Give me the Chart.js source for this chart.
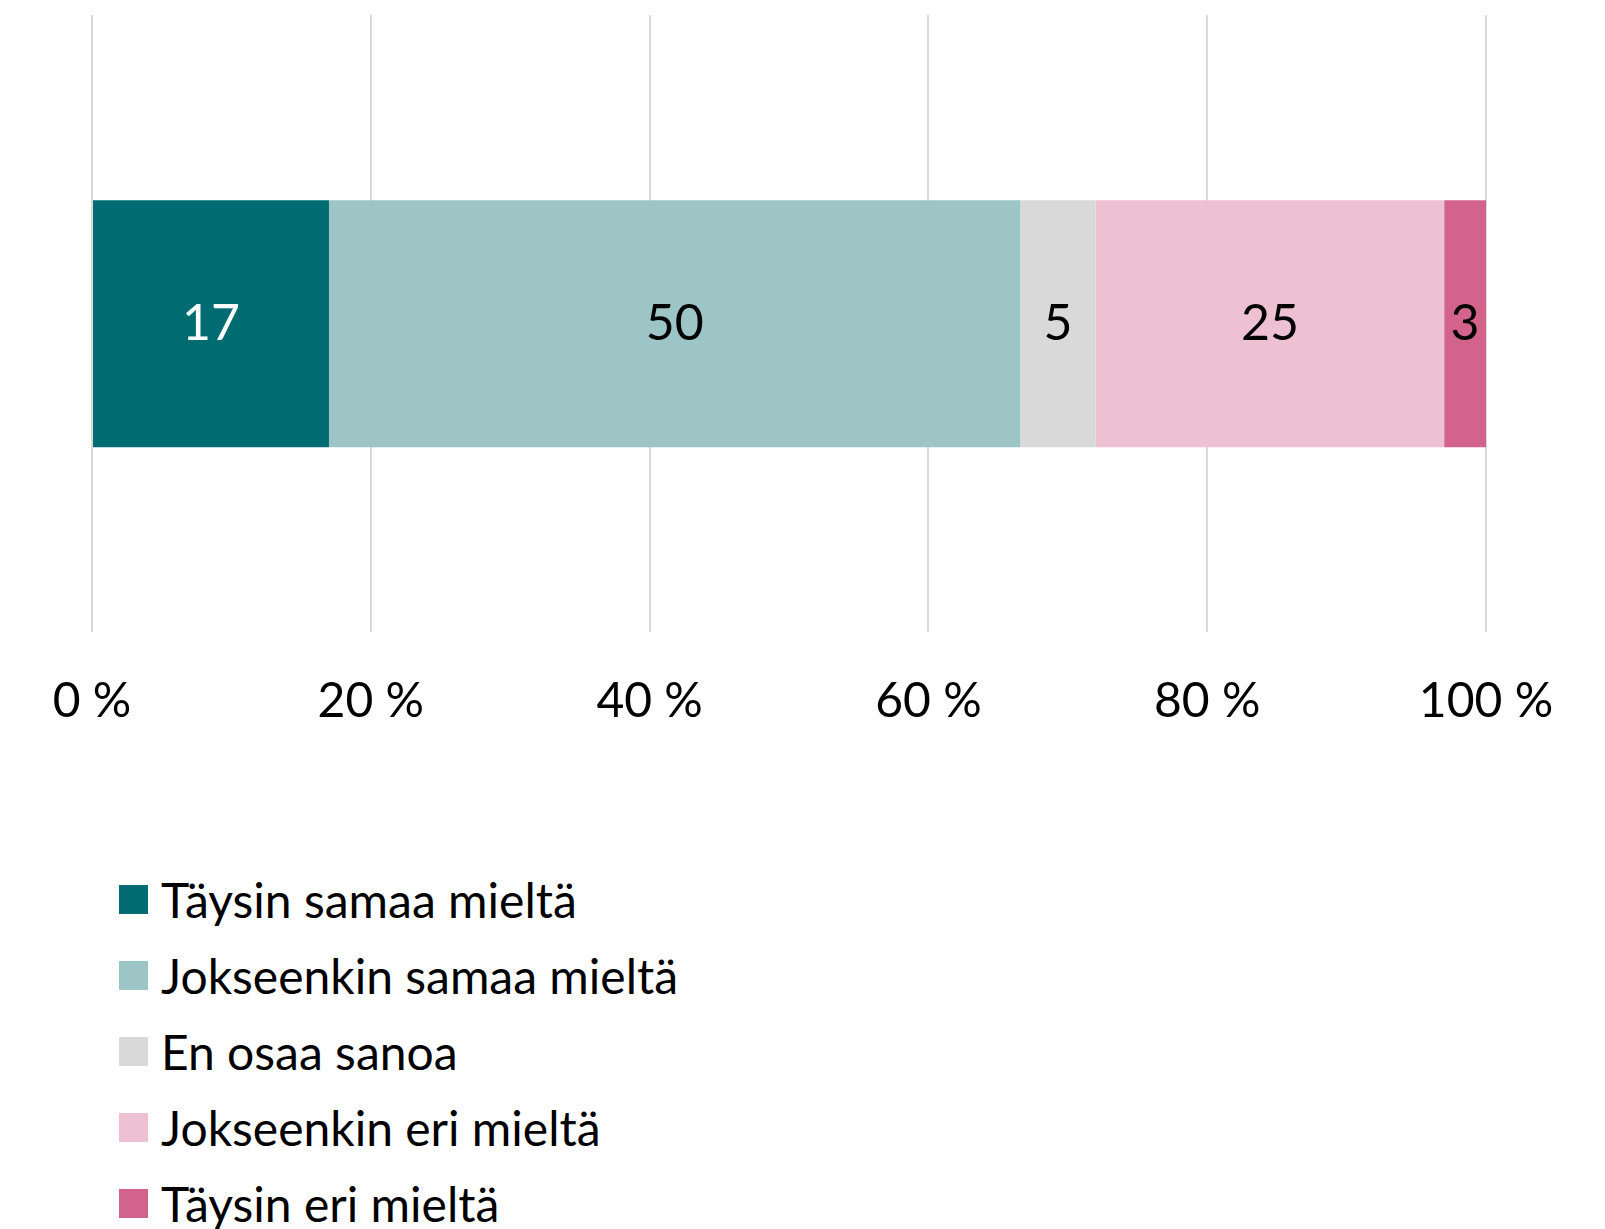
<!DOCTYPE html>
<html>
<head>
<meta charset="utf-8">
<script src="https://cdn.jsdelivr.net/npm/chart.js@4.4.1/dist/chart.umd.min.js"></script>
<style>
  body { margin: 0; background: #fff; font-family: Lato, sans-serif; }
  #wrap { position: relative; width: 1605px; height: 1229px; overflow: hidden; }
  #chartBox { position: absolute; left: 0; top: 0; width: 1605px; height: 804px; }
  #legend { position: absolute; left: 119px; top: 861px; margin: 0; padding: 0; list-style: none; }
  #legend li { display: flex; align-items: center; height: 76px; font-size: 48px; color: #000; }
  #legend .box { width: 29px; height: 29px; margin-right: 13px; flex: none; }
</style>
</head>
<body>
<div id="wrap">
  <div id="chartBox"><canvas id="chart"></canvas></div>
  <ul id="legend"></ul>
</div>
<script>
const categories = [''];
const seriesNames = ['Täysin samaa mieltä', 'Jokseenkin samaa mieltä', 'En osaa sanoa', 'Jokseenkin eri mieltä', 'Täysin eri mieltä'];
const shares = [17, 49.6, 5.4, 25, 3];
const xTicks = [0, 20, 40, 60, 80, 100];

const colors = ['#006C71', '#9DC5C6', '#D9D9D9', '#EDC1D1', '#D2648C'];
const labelColors = ['#fff', '#000', '#000', '#000', '#000'];

// draws the rounded value in the middle of each segment
const segmentLabels = {
  id: 'segmentLabels',
  afterDatasetsDraw(chart) {
    const ctx = chart.ctx;
    ctx.save();
    ctx.font = '50px Lato';
    ctx.textAlign = 'center';
    ctx.textBaseline = 'middle';
    chart.data.datasets.forEach((ds, i) => {
      chart.getDatasetMeta(i).data.forEach((bar, j) => {
        const p = bar.getCenterPoint();
        ctx.fillStyle = labelColors[i];
        ctx.fillText(Math.round(ds.data[j]), p.x, p.y);
      });
    });
    ctx.restore();
  }
};

const datasets = seriesNames.map((name, i) => ({
  label: name,
  data: [shares[i]],
  backgroundColor: colors[i],
  borderWidth: 0,
  barPercentage: 0.4,
  categoryPercentage: 1
}));

new Chart(document.getElementById('chart'), {
  type: 'bar',
  data: { labels: categories, datasets },
  options: {
    indexAxis: 'y',
    responsive: true,
    maintainAspectRatio: false,
    animation: false,
    layout: { padding: { left: 92, right: 119, top: 15, bottom: 34 } },
    plugins: { legend: { display: false }, tooltip: { enabled: false } },
    scales: {
      x: {
        stacked: true,
        min: 0,
        max: 100,
        afterBuildTicks: axis => { axis.ticks = xTicks.map(v => ({ value: v })); },
        ticks: {
          callback: v => v + ' %',
          color: '#000',
          font: { family: 'Lato', size: 48 },
          padding: 40,
          maxRotation: 0
        },
        grid: { color: '#d9d9d9', lineWidth: 2, drawTicks: false },
        border: { display: false }
      },
      y: { stacked: true, display: false }
    }
  },
  plugins: [segmentLabels]
});

// legend as a vertical list below the chart
const legend = document.getElementById('legend');
seriesNames.forEach((name, i) => {
  const li = document.createElement('li');
  li.innerHTML = `<span class="box" style="background:${colors[i]}"></span><span>${name}</span>`;
  legend.appendChild(li);
});
</script>
</body>
</html>
